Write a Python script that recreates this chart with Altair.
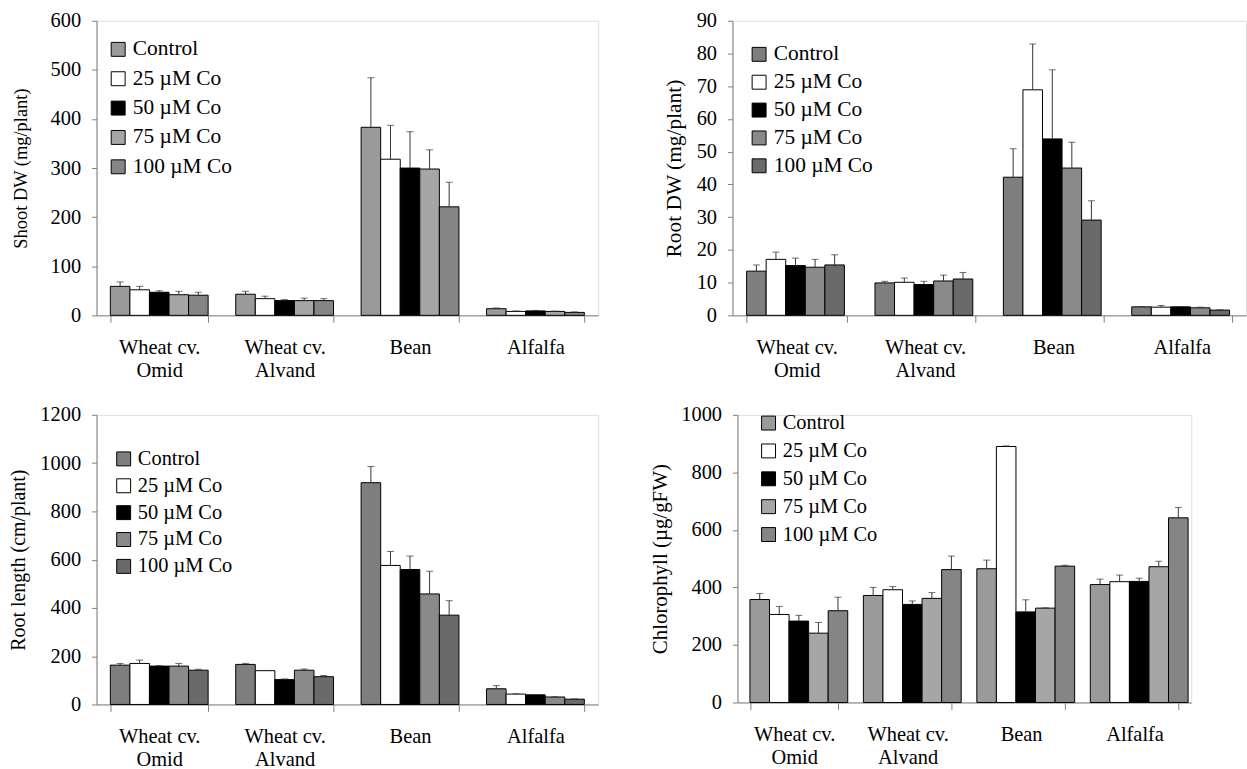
import altair as alt
import pandas as pd

FONT = "Liberation Serif, Times New Roman, serif"

categories = ["Wheat cv.\nOmid", "Wheat cv.\nAlvand", "Bean", "Alfalfa"]
treatments = ["Control", "25 µM Co", "50 µM Co", "75 µM Co", "100 µM Co"]

# Shoot DW (mg/plant): means and upper error (SE) per treatment, per category
shoot_mean = [[59, 43, 383, 13.5], [52, 34, 318, 8], [47, 30, 300, 9], [42, 30, 298, 8], [41, 30, 221, 6]]
shoot_err = [[9, 6, 101, 1.5], [7, 5, 69, 1], [3, 2, 74, 1], [7, 5, 39, 0.5], [6, 4, 50, 1]]

# Root DW (mg/plant)
rootdw_mean = [[13.5, 9.9, 42.2, 2.6], [17.1, 10.1, 68.9, 2.5], [15.2, 9.4, 53.9, 2.6], [14.7, 10.5, 45.0, 2.3], [15.4, 11.1, 29.1, 1.6]]
rootdw_err = [[1.9, 0.5, 8.7, 0.1], [2.2, 1.3, 14.0, 0.5], [2.3, 1.0, 21.1, 0.1], [2.4, 1.8, 7.9, 0.2], [3.1, 2.0, 5.9, 0.1]]

# Root length (cm/plant)
rootlen_mean = [[163, 166, 919, 65], [170, 140, 576, 43], [159, 103, 559, 40], [159, 142, 458, 31], [142, 115, 370, 22]]
rootlen_err = [[7, 4, 67, 13], [14, 1, 58, 1], [2, 3, 56, 1], [11, 5, 94, 1], [4, 5, 60, 1]]

# Chlorophyll (µg/gFW)
chl_mean = [[358, 372, 465, 410], [306, 392, 890, 420], [283, 341, 315, 421], [241, 362, 328, 472], [319, 462, 474, 642]]
chl_err = [[21, 28, 30, 19], [28, 11, 2, 23], [20, 12, 42, 11], [37, 20, 1, 19], [47, 47, 3, 36]]

shoot_ticks = [0, 100, 200, 300, 400, 500, 600]
rootdw_ticks = [0, 10, 20, 30, 40, 50, 60, 70, 80, 90]
rootlen_ticks = [0, 200, 400, 600, 800, 1000, 1200]
chl_ticks = [0, 200, 400, 600, 800, 1000]

fills_fine = ["#9a9a9a", "#ffffff", "#000000", "#a6a6a6", "#858585"]
fills_bold = ["#7e7e7e", "#ffffff", "#000000", "#8a8a8a", "#6a6a6a"]

AXIS_GRAY = "#808080"


def panel(key, means, errs, ytitle, yticks, width, height, colors, lx, ly, title_x,
          title_fs, label_fs, legend_fs, row_pad):
    rows = []
    for t, m, e in zip(treatments, means, errs):
        for c, mv, ev in zip(categories, m, e):
            rows.append({"cat": c, key: t, "mean": mv, "top": mv + ev})
    df = pd.DataFrame(rows)

    xenc = alt.X(
        "cat:N", sort=categories,
        scale=alt.Scale(domain=categories, paddingInner=0.22, paddingOuter=0.11),
        axis=alt.Axis(
            title=None, labelAngle=0, tickBand="extent", tickSize=7,
            labelPadding=15, labelLineHeight=23, labelFont=FONT,
            labelFontSize=label_fs, labelColor="black",
            domainColor=AXIS_GRAY, tickColor=AXIS_GRAY,
            labelExpr="split(datum.label, '\\n')",
        ),
    )
    xoff = alt.XOffset(f"{key}:N",
                       scale=alt.Scale(domain=treatments, paddingInner=0, paddingOuter=0))
    yscale = alt.Scale(domain=[yticks[0], yticks[-1]], nice=False)
    yaxis = alt.Axis(
        values=yticks, grid=False, tickSize=5, labelPadding=11, format="d",
        labelOverlap=False,
        labelFont=FONT, labelFontSize=label_fs, labelColor="black",
        domainColor=AXIS_GRAY, tickColor=AXIS_GRAY,
        title=ytitle, titleFont=FONT, titleFontSize=title_fs,
        titleFontWeight="normal", titleColor="black",
        titleAngle=270, titleAlign="center", titleBaseline="middle",
        titleX=title_x, titleY=height / 2,
    )

    base = alt.Chart(df).encode(x=xenc, xOffset=xoff)
    bars = base.mark_bar(stroke="black", strokeWidth=1).encode(
        y=alt.Y("mean:Q", scale=yscale, axis=yaxis),
        fill=alt.Fill(
            f"{key}:N",
            scale=alt.Scale(domain=treatments, range=colors),
            legend=alt.Legend(
                title=None, orient="none", legendX=lx, legendY=ly,
                symbolType="square", symbolSize=196,
                symbolStrokeColor="black", symbolStrokeWidth=1,
                labelFont=FONT, labelFontSize=legend_fs, labelColor="black",
                labelOffset=4, rowPadding=row_pad, padding=0,
            ),
        ),
    )
    rules = base.mark_rule(color="#333333", strokeWidth=1).encode(
        y=alt.Y("mean:Q", scale=yscale, axis=yaxis), y2="top:Q")
    caps = base.mark_tick(color="#333333", thickness=1, size=7).encode(
        y=alt.Y("top:Q", scale=yscale, axis=yaxis))
    return alt.layer(bars, rules, caps).properties(width=width, height=height)


p1 = panel("t1", shoot_mean, shoot_err, "Shoot DW (mg/plant)", shoot_ticks, 504, 296,
           fills_fine, 11, 18, -76, 18.5, 20.5, 21.5, 6.5)
p2 = panel("t2", rootdw_mean, rootdw_err, "Root DW (mg/plant)", rootdw_ticks, 516, 296,
           fills_bold, 16, 23, -58, 21.5, 20.5, 21.5, 5)
p3 = panel("t3", rootlen_mean, rootlen_err, "Root length (cm/plant)", rootlen_ticks, 504, 291,
           fills_bold, 17, 34, -78, 20, 20.5, 20.5, 6)
p4 = panel("t4", chl_mean, chl_err, "Chlorophyll (µg/gFW)", chl_ticks, 456, 289,
           fills_fine, 21, -2, -77, 21, 20.5, 20.5, 7)

top = alt.hconcat(p1, p2, spacing=64).resolve_scale(fill="independent").resolve_legend(fill="independent")
bottom = alt.hconcat(p3, p4, spacing=50).resolve_scale(fill="independent").resolve_legend(fill="independent")

chart = alt.vconcat(top, bottom, spacing=23).resolve_scale(
    fill="independent").resolve_legend(fill="independent").properties(
    padding={"left": 8, "top": 8, "right": 0, "bottom": 0}
).configure_view(strokeWidth=0).configure(font=FONT)

chart.save("out.html", embed_options={"renderer": "svg", "actions": False})
